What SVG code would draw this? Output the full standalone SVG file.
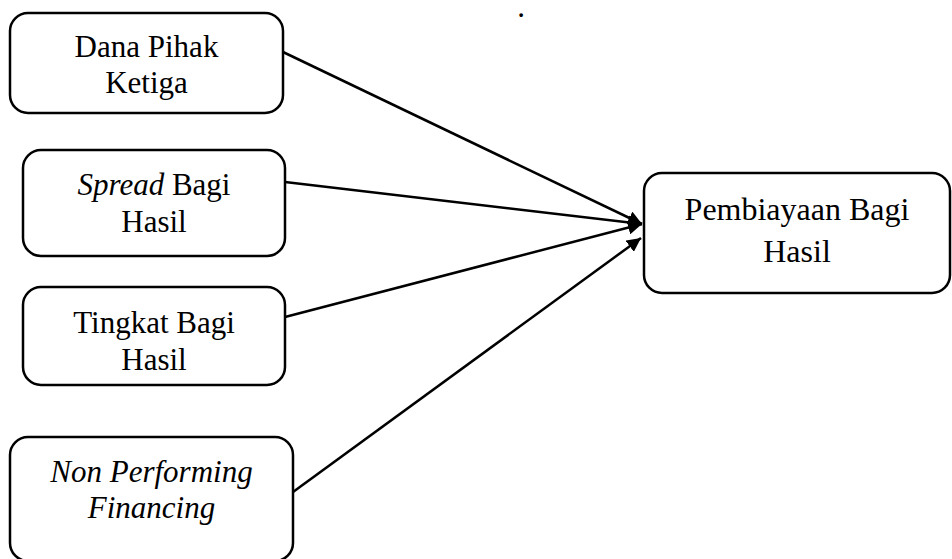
<svg xmlns="http://www.w3.org/2000/svg" width="952" height="559" viewBox="0 0 952 559">
<style>
.box{fill:#fff;stroke:#000;stroke-width:2.5}
.t{font-family:"Liberation Serif","Times New Roman",serif;font-size:31px;fill:#000;text-anchor:middle}
.i{font-style:italic}
.c{stroke:#000;stroke-width:2.5;fill:none}
</style>
<defs>
<marker id="ah" markerUnits="userSpaceOnUse" markerWidth="16" markerHeight="14" refX="14" refY="7" orient="auto">
<path d="M0,0 L14,7 L0,14 Z" fill="#000"/>
</marker>
</defs>
<rect width="952" height="559" fill="#fff"/>
<text class="t" x="521" y="17">.</text>
<g id="connectors">
<line class="c" x1="283" y1="52" x2="642" y2="224" marker-end="url(#ah)"/>
<line class="c" x1="285" y1="182" x2="642" y2="224" marker-end="url(#ah)"/>
<line class="c" x1="285" y1="317" x2="642" y2="224" marker-end="url(#ah)"/>
<line class="c" x1="293" y1="492" x2="641" y2="238" marker-end="url(#ah)"/>
</g>
<g id="dana">
<rect class="box" x="10" y="13" width="273" height="100" rx="18"/>
<text class="t" x="146.5" y="57">Dana Pihak</text>
<text class="t" x="146.5" y="93">Ketiga</text>
</g>
<g id="spread">
<rect class="box" x="23" y="150" width="262" height="106" rx="18"/>
<text class="t" x="154" y="195"><tspan class="i">Spread</tspan> Bagi</text>
<text class="t" x="154" y="232">Hasil</text>
</g>
<g id="tingkat">
<rect class="box" x="23" y="287" width="262" height="98" rx="18"/>
<text class="t" x="154" y="333">Tingkat Bagi</text>
<text class="t" x="154" y="370">Hasil</text>
</g>
<g id="npf">
<rect class="box" x="10" y="437" width="283" height="124" rx="18"/>
<text class="t i" x="151.5" y="482">Non Performing</text>
<text class="t i" x="151.5" y="518">Financing</text>
</g>
<g id="pembiayaan">
<rect class="box" x="644" y="173" width="306" height="120" rx="18"/>
<text class="t" x="797" y="220" style="font-size:32px">Pembiayaan Bagi</text>
<text class="t" x="797" y="262" style="font-size:32px">Hasil</text>
</g>
</svg>
